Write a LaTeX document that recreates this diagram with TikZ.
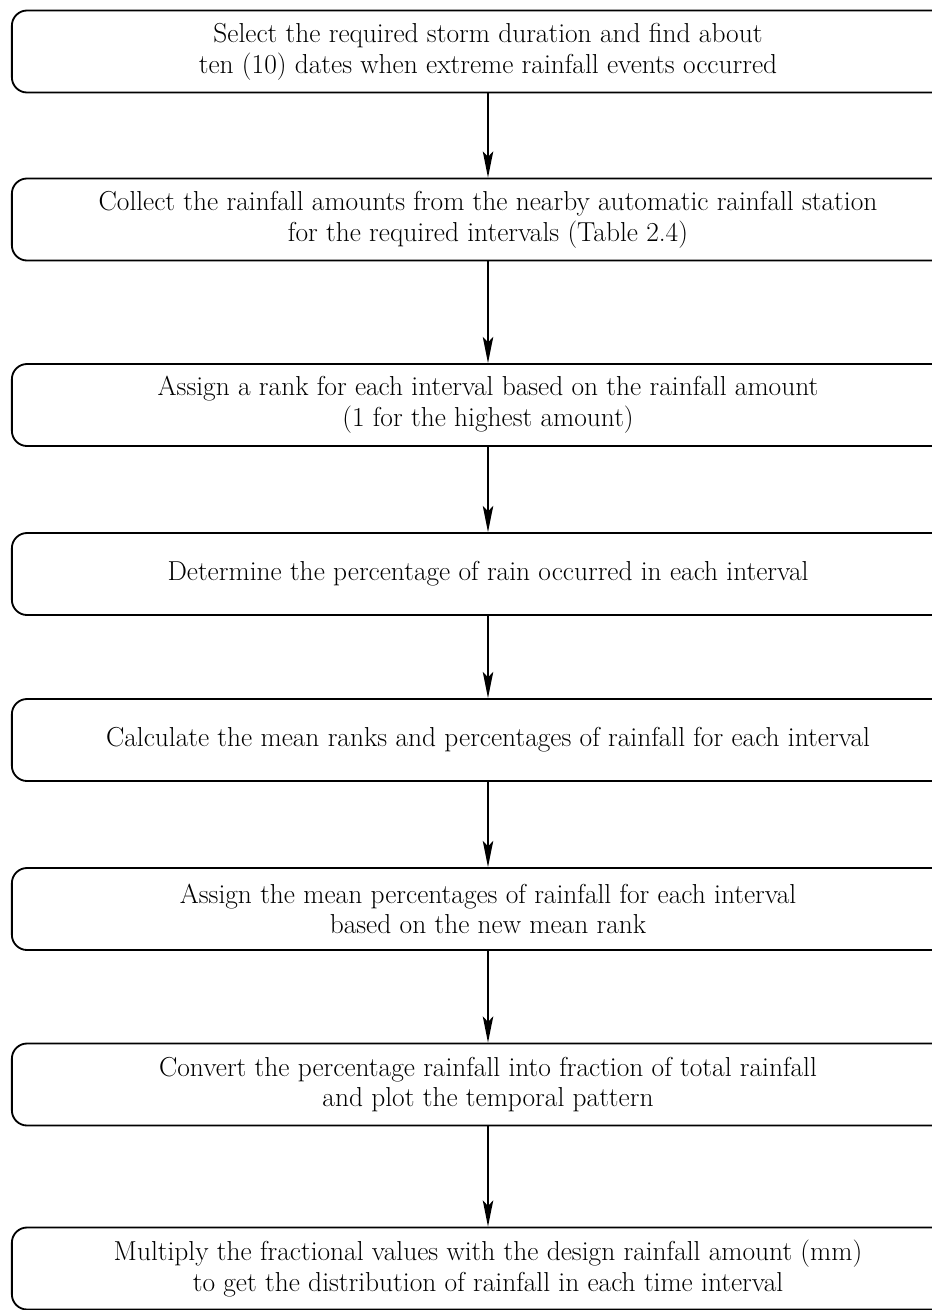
\documentclass[tikz,border=0pt]{standalone}
\usetikzlibrary{arrows.meta}
\tikzset{
    stepbox/.style={draw, line width=1.3pt, rounded corners=0.38cm, minimum width=23.8cm,
        minimum height=2.05cm, inner sep=0pt, align=center,
        font=\fontsize{19.5}{21.8}\selectfont},
    flow/.style={line width=1.1pt, -{Stealth[length=6.5mm,width=2.6mm,inset=1.3mm]}}
}
\begin{document}
\begin{tikzpicture}[x=0.025cm,y=-0.025cm]
        \clip (0,0) rectangle (932,1310);
        \fill[white] (0,0) rectangle (932,1310);
        % Pasos
        \node[stepbox] (b1) at (488, 51.5) {Select the required storm duration and find about\\ ten (10) dates when extreme rainfall events occurred};
        \node[stepbox] (b2) at (488, 219.5) {Collect the rainfall amounts from the nearby automatic rainfall station\\ for the required intervals (Table 2.4)};
        \node[stepbox] (b3) at (488, 405) {Assign a rank for each interval based on the rainfall amount\\ (1 for the highest amount)};
        \node[stepbox] (b4) at (488, 574) {Determine the percentage of rain occurred in each interval};
        \node[stepbox] (b5) at (488, 740) {Calculate the mean ranks and percentages of rainfall for each interval};
        \node[stepbox] (b6) at (488, 909) {Assign the mean percentages of rainfall for each interval\\ based on the new mean rank};
        \node[stepbox] (b7) at (488, 1084.5) {Convert the percentage rainfall into fraction of total rainfall\\ and plot the temporal pattern};
        \node[stepbox] (b8) at (488, 1268.5) {Multiply the fractional values with the design rainfall amount (mm)\\ to get the distribution of rainfall in each time interval};
        % Flechas
        \foreach \i/\j in {1/2, 2/3, 3/4, 4/5, 5/6, 6/7, 7/8} {
            \draw[flow] (b\i) -- (b\j);
        }
    \end{tikzpicture}
\end{document}
